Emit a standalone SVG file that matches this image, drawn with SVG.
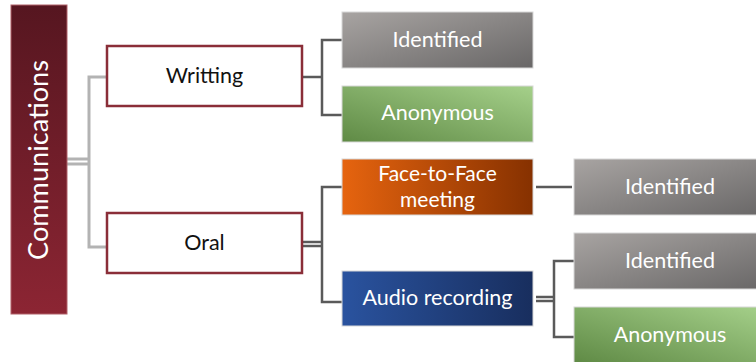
<svg xmlns="http://www.w3.org/2000/svg" width="756" height="362" viewBox="0 0 756 362">
<defs>
<linearGradient id="gRed" x1="0" y1="0" x2="0" y2="1"><stop offset="0" stop-color="#561620"/><stop offset="1" stop-color="#8c2533"/></linearGradient>
<linearGradient id="gGray" x1="0" y1="0" x2="1" y2="1"><stop offset="0" stop-color="#a8a4a2"/><stop offset="1" stop-color="#696767"/></linearGradient>
<linearGradient id="gGreen" x1="0" y1="1" x2="1" y2="0"><stop offset="0" stop-color="#5f8a45"/><stop offset="1" stop-color="#a5d08a"/></linearGradient>
<linearGradient id="gOrange" x1="0" y1="0" x2="1" y2="0"><stop offset="0" stop-color="#e6640f"/><stop offset="1" stop-color="#863100"/></linearGradient>
<linearGradient id="gBlue" x1="0" y1="0" x2="1" y2="0"><stop offset="0" stop-color="#2a539f"/><stop offset="1" stop-color="#182e5e"/></linearGradient>
</defs>
<style>
text{font-family:Lato,"Open Sans",sans-serif;font-size:21.5px;text-anchor:middle}
.w{fill:#ffffff}
.k{fill:#111111}
.cat{fill:#ffffff;stroke:#8a2e38;stroke-width:2.5}
.leaf{stroke:#d8d8d8;stroke-width:1}
.c1{fill:none;stroke:#b3b3b3;stroke-width:3}
.c2{fill:none;stroke:#5a5a5a;stroke-width:2.5}
</style>
<g id="connectors">
<line class="c1" x1="67" y1="159" x2="89" y2="159" stroke-width="2"/>
<line class="c1" x1="67" y1="164" x2="89" y2="164" stroke-width="2"/>
<polyline class="c1" points="107,77 89,77 89,247 107,247"/>
<line class="c2" x1="302" y1="77" x2="322" y2="77" stroke-width="4"/>
<polyline class="c2" points="342,40 322,40 322,115 342,115"/>
<line class="c2" x1="302" y1="242" x2="322" y2="242" stroke-width="2"/>
<line class="c2" x1="302" y1="246" x2="322" y2="246" stroke-width="2"/>
<polyline class="c2" points="342,187 322,187 322,302 342,302"/>
<line class="c2" x1="536" y1="187" x2="572" y2="187" stroke="#3a3a3a"/>
<line class="c2" x1="536" y1="297" x2="554" y2="297" stroke="#707070" stroke-width="2"/>
<line class="c2" x1="536" y1="301" x2="554" y2="301" stroke="#3a3a3a" stroke-width="2"/>
<polyline class="c2" points="574,261 554,261 554,337 574,337" stroke="#4a4a4a"/>
</g>
<g id="communications">
<rect x="11" y="5" width="56" height="309" fill="url(#gRed)" stroke="#b06068" stroke-width="1"/>
<text class="w" transform="translate(48,160) rotate(-90)" style="font-size:27px" textLength="200" lengthAdjust="spacingAndGlyphs">Communications</text>
</g>
<g id="writting">
<rect class="cat" x="107" y="46" width="195" height="60"/>
<text class="k" x="204.5" y="83">Writting</text>
</g>
<g id="oral">
<rect class="cat" x="107" y="213" width="195" height="60"/>
<text class="k" x="204.5" y="250">Oral</text>
</g>
<g id="identified1">
<rect class="leaf" x="342" y="12" width="191" height="56" fill="url(#gGray)"/>
<text class="w" x="437.5" y="46.5">Identified</text>
</g>
<g id="anonymous1">
<rect class="leaf" x="342" y="86" width="191" height="56" fill="url(#gGreen)"/>
<text class="w" x="437.5" y="119.5">Anonymous</text>
</g>
<g id="face">
<rect class="leaf" x="342" y="159" width="191" height="56" fill="url(#gOrange)" stroke="#f0a070"/>
<text class="w" x="437.5" y="181" style="font-size:21px">Face-to-Face</text>
<text class="w" x="437.5" y="206.5" style="font-size:21px">meeting</text>
</g>
<g id="audio">
<rect class="leaf" x="342" y="271" width="191" height="55" fill="url(#gBlue)" stroke="#6080c0"/>
<text class="w" x="437.5" y="305">Audio recording</text>
</g>
<g id="identified2">
<rect class="leaf" x="574" y="159" width="191" height="56" fill="url(#gGray)"/>
<text class="w" x="670" y="194">Identified</text>
</g>
<g id="identified3">
<rect class="leaf" x="574" y="233" width="191" height="56" fill="url(#gGray)"/>
<text class="w" x="670" y="268">Identified</text>
</g>
<g id="anonymous2">
<rect class="leaf" x="574" y="307" width="191" height="56" fill="url(#gGreen)"/>
<text class="w" x="670" y="341.5">Anonymous</text>
</g>
</svg>
